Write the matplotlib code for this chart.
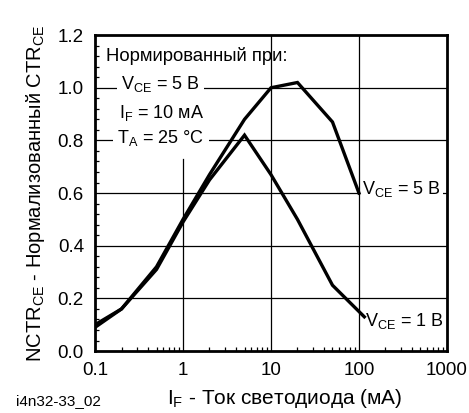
import matplotlib
matplotlib.use("Agg")
import matplotlib.pyplot as plt
from matplotlib.ticker import FixedLocator, NullFormatter, LogLocator

plt.rcParams['font.family'] = ['Liberation Sans', 'DejaVu Sans']
plt.rcParams['mathtext.fontset'] = 'custom'
plt.rcParams['mathtext.rm'] = 'Liberation Sans'
plt.rcParams['mathtext.it'] = 'Liberation Sans'

# Forward current, mA
if_vce5 = [0.1, 0.2, 0.5, 1, 2, 5, 10, 20, 50, 100]
nctr_vce5 = [0.10, 0.16, 0.32, 0.50, 0.67, 0.88, 1.00, 1.02, 0.87, 0.60]

if_vce1 = [0.1, 0.2, 0.5, 1, 2, 5, 10, 20, 50, 115]
nctr_vce1 = [0.09, 0.16, 0.31, 0.49, 0.65, 0.82, 0.67, 0.50, 0.25, 0.13]

x_ticks = [0.1, 1, 10, 100, 1000]
x_tick_labels = ["0.1", "1", "10", "100", "1000"]
y_ticks = [0.0, 0.2, 0.4, 0.6, 0.8, 1.0, 1.2]
y_tick_labels = ["0.0", "0.2", "0.4", "0.6", "0.8", "1.0", "1.2"]

fig = plt.figure(figsize=(4.69, 4.13), dpi=100)
ax = fig.add_axes([0.2026, 0.150, 0.7504, 0.765])

ax.set_xscale('log')
ax.set_xlim(0.1, 1000)
ax.set_ylim(0, 1.2)

# grid drawn by hand so labels can mask the horizontal lines
for yv in y_ticks[1:-1]:
    ax.axhline(yv, color='black', lw=0.9, zorder=1)
ax.axvline(1, ymin=0, ymax=0.73 / 1.2, color='black', lw=0.9, zorder=3)
ax.axvline(10, color='black', lw=0.9, zorder=3)
ax.axvline(100, color='black', lw=0.9, zorder=3)

ax.plot(if_vce5, nctr_vce5, color='black', lw=2.4, zorder=4,
        solid_joinstyle='miter')
ax.plot(if_vce1, nctr_vce1, color='black', lw=2.4, zorder=4,
        solid_joinstyle='miter')

ax.set_xticks(x_ticks)
ax.set_xticklabels(x_tick_labels)
ax.set_yticks(y_ticks)
ax.set_yticklabels(y_tick_labels)
ax.xaxis.set_minor_locator(LogLocator(base=10, subs=range(2, 10)))
ax.xaxis.set_minor_formatter(NullFormatter())
ax.yaxis.set_minor_locator(FixedLocator([i * 0.04 for i in range(31)]))

ax.tick_params(which='major', length=0, labelsize=13.5, pad=8)
ax.tick_params(which='minor', direction='in', length=3.2, width=0.9,
               top=False, right=False)
ax.tick_params(axis='y', which='major', pad=8)

for s in ax.spines.values():
    s.set_linewidth(2.0)

sub = lambda t: r"$_{\mathregular{" + t + "}}$"

box = dict(facecolor='white', edgecolor='none', pad=3)
ax.text(0.135, 1.12, "Нормированный при:", fontsize=13.3, ha='left',
        va='center', zorder=2)
ax.text(0.55, 1.015, "V" + sub("CE") + " = 5 В", fontsize=13, ha='center',
        va='center', zorder=2, bbox=box)
ax.text(0.57, 0.905, "I" + sub("F") + " = 10 мА", fontsize=13, ha='center',
        va='center', zorder=2, bbox=box)
ax.text(0.56, 0.81, "T" + sub("A") + " = 25 °C", fontsize=13, ha='center',
        va='center', zorder=2, bbox=box)

ax.text(108, 0.615, "V" + sub("CE") + " = 5 В", fontsize=13, ha='left',
        va='center', zorder=2,
        bbox=dict(facecolor='white', edgecolor='none', pad=2))
ax.text(118, 0.115, "V" + sub("CE") + " = 1 В", fontsize=13, ha='left',
        va='center', zorder=2)

ax.set_xlabel("I" + sub("F") + " - Ток светодиода (мА)", fontsize=15,
              labelpad=8)
ax.xaxis.set_label_coords(0.54, -0.115)
ax.set_ylabel("NCTR" + sub("CE") + " - Нормализованный CTR" + sub("CE"),
              fontsize=14.5, labelpad=8)
fig.text(16 / 469, 1 - 401 / 413, "i4n32-33_02", fontsize=11, ha='left',
         va='center')

fig.savefig("out.png", dpi=100)
